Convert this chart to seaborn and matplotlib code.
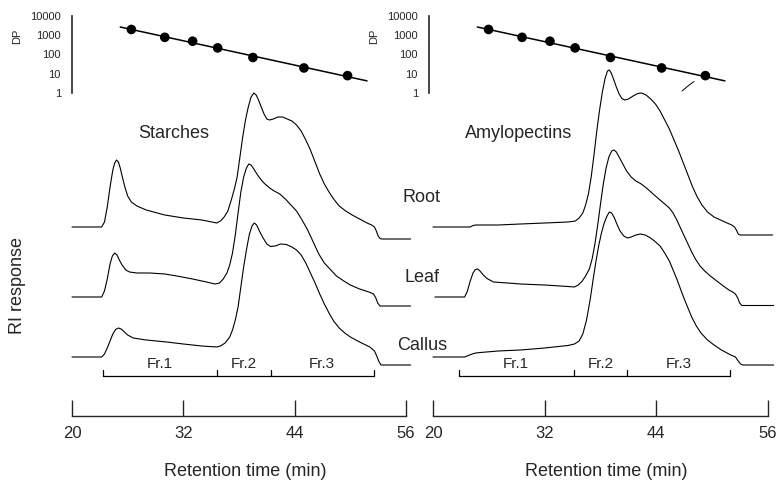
import numpy as np
import pandas as pd
import matplotlib
matplotlib.use("Agg")
import matplotlib.pyplot as plt
import seaborn as sns
from matplotlib.ticker import FixedLocator, NullFormatter, FixedFormatter

# ---------------- data ----------------
# DP calibration (retention time in min, degree of polymerisation)
dp_time = [26.4, 30.0, 33.0, 35.7, 39.5, 45.0, 49.7]
dp_value = [2000, 780, 490, 220, 70, 20, 8]
dp_fit_range = [25.2, 51.8]
dp_ticks = [1, 10, 100, 1000, 10000]
dp_ticklabels = ["1", "10", "100", "1000", "10000"]

x_ticks = [20, 32, 44, 56]
panel_titles = ["Starches", "Amylopectins"]
tissues = ["Root", "Leaf", "Callus"]
fractions = ["Fr.1", "Fr.2", "Fr.3"]
starch_fraction_bounds = [23.3, 35.6, 41.4, 52.5]
amylo_fraction_bounds = [22.8, 35.1, 40.9, 51.9]

# chromatograms: (retention time, RI response) pairs
starch_root = [(20.0, 0), (23.2, 0), (23.5, 5), (23.8, 20), (24.1, 40), (24.4, 57), (24.6, 64), (24.8, 67),
               (25.0, 65), (25.2, 59), (25.4, 51), (25.7, 40), (26.0, 31), (26.4, 25), (27.0, 21), (28.0, 17),
               (30.0, 12), (32.0, 9), (34.0, 7), (35.6, 4), (36.0, 6), (36.4, 10), (36.8, 16), (37.2, 28),
               (37.5, 38), (37.8, 50), (38.1, 70), (38.4, 90), (38.7, 107), (39.0, 120), (39.3, 130),
               (39.6, 134), (39.85, 132), (40.1, 127), (40.4, 120), (40.7, 113), (41.0, 108), (41.3, 107),
               (41.7, 108), (42.2, 110), (42.7, 110), (43.2, 108), (43.7, 106), (44.2, 102), (44.7, 96),
               (45.2, 87), (45.7, 77), (46.2, 65), (46.7, 53), (47.2, 43), (47.7, 35), (48.2, 28), (48.8, 21),
               (49.5, 16), (50.2, 12), (51.0, 8), (51.8, 4), (52.3, 2), (52.6, 0), (52.8, -4), (53.0, -9),
               (53.2, -11.5), (53.4, -12), (56.5, -12)]
starch_leaf = [(20.0, 0), (23.2, 0), (23.5, 6), (23.8, 18), (24.1, 33), (24.35, 41), (24.6, 44), (24.85, 42),
               (25.1, 37), (25.4, 32), (25.8, 27), (26.2, 25), (27.0, 24), (28.4, 24), (30.0, 23), (31.3, 21),
               (33.0, 18), (34.5, 15), (35.4, 13), (35.9, 14), (36.3, 18), (36.7, 24), (37.0, 32), (37.3, 44),
               (37.6, 62), (37.9, 84), (38.2, 105), (38.5, 120), (38.8, 129), (39.05, 133), (39.3, 132),
               (39.6, 128), (40.0, 122), (40.4, 117), (40.8, 113), (41.3, 109), (41.8, 106), (42.4, 103),
               (43.0, 98), (43.6, 92), (44.2, 86), (44.8, 77), (45.4, 67), (46.0, 55), (46.6, 43), (47.2, 34),
               (47.8, 28), (48.5, 21), (49.3, 16), (50.0, 12), (51.0, 8), (52.0, 5), (52.5, 3), (52.75, -1),
               (52.95, -6), (53.2, -9), (56.5, -9)]
starch_callus = [(20.0, 0), (23.2, 0), (23.5, 3), (23.8, 9), (24.1, 16), (24.4, 23), (24.7, 27.5), (25.0, 29),
                 (25.3, 28), (25.6, 25.5), (26.0, 22), (26.6, 19), (28.0, 17), (30.2, 15), (32.0, 13),
                 (34.0, 11), (35.6, 10), (36.0, 11), (36.5, 14), (37.0, 20), (37.3, 27), (37.6, 37), (37.9, 50),
                 (38.2, 70), (38.5, 90), (38.8, 107), (39.1, 122), (39.4, 131), (39.65, 134), (39.9, 132),
                 (40.2, 126), (40.6, 119), (41.0, 113), (41.4, 110.5), (41.9, 111), (42.5, 113), (43.1, 112.5),
                 (43.7, 110), (44.2, 107), (44.7, 102), (45.2, 94), (45.7, 84), (46.2, 74), (46.7, 63),
                 (47.2, 53), (47.7, 44), (48.2, 36), (48.8, 29), (49.4, 24), (50.0, 20), (51.0, 15), (52.1, 10),
                 (52.6, 6), (52.85, 1), (53.05, -4), (53.3, -8), (56.5, -8)]

amylo_root = [(20.0, 0), (24.0, 0), (24.3, 1.5), (24.6, 2), (27.0, 2), (29.4, 3), (32.0, 4), (34.5, 5),
              (35.3, 6), (35.7, 9), (36.1, 14), (36.4, 22), (36.7, 33), (37.0, 50), (37.3, 72), (37.6, 96),
              (37.9, 117), (38.2, 135), (38.5, 149), (38.75, 156), (38.95, 157), (39.15, 154), (39.4, 148),
              (39.7, 140), (40.0, 133), (40.3, 128.5), (40.6, 127), (41.0, 128), (41.5, 131), (42.0, 133.5),
              (42.4, 134), (42.9, 132), (43.4, 128), (43.9, 123), (44.4, 116), (44.9, 107), (45.4, 98),
              (45.9, 87), (46.4, 76), (46.9, 64), (47.4, 52), (47.9, 40), (48.4, 30), (48.9, 22), (49.5, 15),
              (50.2, 10), (50.9, 7), (51.6, 4), (52.1, 2), (52.4, 0), (52.6, -3), (52.8, -7), (53.0, -8),
              (56.5, -8)]
amylo_leaf = [(20.2, 0), (23.4, 0), (23.7, 6), (24.0, 16), (24.3, 24), (24.55, 27.5), (24.8, 28), (25.05, 26),
              (25.4, 22), (25.8, 18.5), (26.5, 15), (28.0, 14), (29.4, 13), (32.0, 12), (34.5, 10.5),
              (35.2, 10), (35.6, 12), (36.0, 15.5), (36.4, 21), (36.8, 28), (37.1, 38), (37.4, 53), (37.7, 72),
              (38.0, 93), (38.3, 113), (38.6, 129), (38.9, 140), (39.2, 146), (39.45, 147), (39.7, 145),
              (40.0, 140), (40.4, 133), (40.8, 126), (41.3, 120), (41.8, 116), (42.3, 113.5), (42.8, 110),
              (43.3, 106), (43.9, 101), (44.4, 97), (44.9, 93), (45.4, 89), (45.8, 84), (46.2, 77), (46.6, 69),
              (47.0, 61), (47.4, 53), (47.8, 45), (48.2, 38), (48.7, 31), (49.2, 26), (49.8, 21), (50.5, 16),
              (51.2, 11), (51.8, 7), (52.2, 5), (52.5, 3), (52.75, -1), (52.95, -6), (53.2, -8.5), (56.6, -8.5)]
amylo_callus = [(20.0, 0), (23.4, 0), (23.8, 1.5), (24.2, 3), (24.6, 4), (25.1, 4.5), (27.0, 6), (29.4, 7),
                (32.0, 9), (34.5, 11.5), (35.2, 13), (35.7, 16), (36.1, 23), (36.5, 37), (36.9, 58), (37.2, 77),
                (37.5, 95), (37.8, 111), (38.1, 124), (38.4, 134), (38.7, 141), (38.95, 145), (39.2, 144),
                (39.5, 139), (39.8, 132), (40.1, 126), (40.5, 121), (40.9, 119), (41.3, 120), (41.8, 122),
                (42.3, 123), (42.8, 122), (43.3, 119.5), (43.8, 116), (44.4, 111), (44.9, 104), (45.4, 96),
                (45.8, 87), (46.2, 78), (46.6, 68), (47.0, 58), (47.4, 49), (47.8, 40), (48.3, 31), (48.8, 24),
                (49.5, 17), (50.2, 12), (51.0, 7), (51.6, 4), (52.0, 2), (52.5, 0), (52.8, -4), (53.05, -7),
                (53.3, -8), (56.6, -8)]

# small stray stroke in the right panel
stray_t = [46.76, 47.40, 48.05]
stray_y = [392, 397, 401.5]

# ---------------- layout ----------------
sns.set_style("white")
plt.rcParams['font.family'] = ['Liberation Sans', 'DejaVu Sans']

W, H = 776, 483
fig = plt.figure(figsize=(W / 100, H / 100), dpi=100)


def rect(x0, y0, x1, y1):
    return [x0 / W, 1 - y1 / H, (x1 - x0) / W, (y1 - y0) / H]


def ftext(px, py, s, **kw):
    fig.text(px / W, 1 - py / H, s, **kw)


trace_offsets = {"Root": 256, "Leaf": 186, "Callus": 126}
LW = 0.8

panels = [
    dict(title=panel_titles[0], box=(72, 406), inset_x=72, title_pos=(31.0, 344.5),
         bounds=starch_fraction_bounds,
         traces={"Root": starch_root, "Leaf": starch_leaf, "Callus": starch_callus},
         xlabel_px=245),
    dict(title=panel_titles[1], box=(433, 768), inset_x=429, title_pos=(29.24, 345.5),
         bounds=amylo_fraction_bounds,
         traces={"Root": amylo_root, "Leaf": amylo_leaf, "Callus": amylo_callus},
         xlabel_px=606),
]

for i, p in enumerate(panels):
    x0, x1 = p["box"]
    ax = fig.add_axes(rect(x0, 0, x1, 416))
    ax.patch.set_alpha(0)
    for name in tissues:
        df = pd.DataFrame(p["traces"][name], columns=["t", "r"])
        df["y"] = df["r"] + trace_offsets[name]
        sns.lineplot(data=df, x="t", y="y", ax=ax, color="black", linewidth=LW,
                     sort=False, estimator=None)
    if i == 1:
        sns.lineplot(x=stray_t, y=stray_y, ax=ax, color="black", linewidth=0.7,
                     sort=False, estimator=None)
    for ln in ax.lines:
        ln.set_clip_on(False)
        ln.set_solid_joinstyle("round")

    # fraction bracket
    b = p["bounds"]
    ax.plot([b[0], b[-1]], [107, 107], color="black", lw=0.9, clip_on=False)
    for xb in b:
        ax.plot([xb, xb], [107, 113.5], color="black", lw=0.9, clip_on=False)
    for k, lab in enumerate(fractions):
        ax.text((b[k] + b[k + 1]) / 2, 115, lab, ha="center", va="baseline", fontsize=11)

    ax.text(p["title_pos"][0], p["title_pos"][1], p["title"], ha="center", va="baseline", fontsize=13)

    ax.set_xlim(20, 56)
    ax.set_ylim(67, 483)
    for s in ["left", "right", "top"]:
        ax.spines[s].set_visible(False)
    ax.spines["bottom"].set_bounds(20, 56)
    ax.spines["bottom"].set_linewidth(1.0)
    ax.set_xticks(x_ticks)
    ax.set_xticklabels([str(v) for v in x_ticks])
    ax.set_yticks([])
    ax.tick_params(axis="x", direction="in", length=11.5, width=1.0, labelsize=12, pad=7,
                   bottom=True)
    ax.set_xlabel("")
    ax.set_ylabel("")
    ftext(p["xlabel_px"], 476, "Retention time (min)", ha="center", va="baseline", fontsize=13)

    # DP inset
    ix = p["inset_x"]
    axi = fig.add_axes(rect(ix, 16, ix + (x1 - x0), 93))
    axi.patch.set_alpha(0)
    axi.set_yscale("log")
    coef = np.polyfit(dp_time, np.log10(dp_value), 1)
    fx = np.array(dp_fit_range)
    sns.lineplot(x=fx, y=10 ** np.polyval(coef, fx), ax=axi, color="black", linewidth=1.1,
                 sort=False, estimator=None)
    sns.scatterplot(x=dp_time, y=dp_value, ax=axi, color="black", s=48, edgecolor="none",
                    zorder=3)
    for ln in axi.lines:
        ln.set_clip_on(False)
    axi.set_xlim(20, 56)
    axi.set_ylim(1, 10000)
    for s in ["bottom", "right", "top"]:
        axi.spines[s].set_visible(False)
    axi.spines["left"].set_linewidth(1.2)
    axi.set_xticks([])
    axi.yaxis.set_major_locator(FixedLocator(dp_ticks))
    axi.yaxis.set_major_formatter(FixedFormatter(dp_ticklabels))
    axi.yaxis.set_minor_locator(FixedLocator([dp_ticks[0], dp_ticks[-1]]))
    axi.yaxis.set_minor_formatter(NullFormatter())
    axi.tick_params(axis="y", which="major", length=0, labelsize=8, pad=8, left=True)
    axi.tick_params(axis="y", which="minor", direction="in", length=5.8, width=1.2, left=True)
    axi.set_xlabel("")
    axi.set_ylabel("")
    ftext(ix - 55, 36, "DP", rotation=90, ha="center", va="center", fontsize=8)

# tissue labels
for name, py in zip(tissues, [198, 277, 346]):
    ftext(422, py, name, ha="center", va="center", fontsize=13)

ftext(18, 285, "RI response", rotation=90, ha="center", va="center", fontsize=13)

fig.savefig("out.png", dpi=100)
